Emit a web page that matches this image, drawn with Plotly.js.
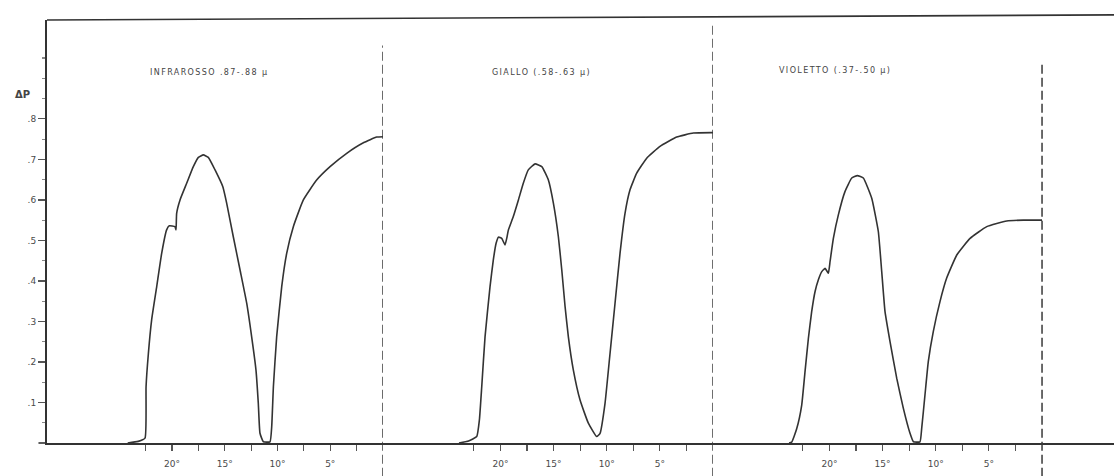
<!DOCTYPE html>
<html>
<head>
<meta charset="utf-8">
<script src="https://cdn.plot.ly/plotly-3.0.1.min.js"></script>
<style>html,body{margin:0;padding:0;background:#fff;}#chart{width:1114px;height:476px;}</style>
</head>
<body>
<div id="chart"></div>
<script>
// Angle (degrees) and ΔP values
var degInfrarosso = [24.2, 23.2, 22.56, 22.46, 22.24, 21.93, 21.45, 20.98, 20.51, 20.26, 19.72, 19.62, 19.56, 19.24, 18.61, 17.98, 17.5, 17.03, 16.56, 15.92, 15.19, 14.82, 14.19, 13.55, 12.92, 12.45, 12.04, 11.82, 11.66, 11.34, 10.71, 10.55, 10.39, 10.08, 9.6, 9.13, 8.5, 7.55, 6.29, 5.02, 3.44, 1.86, 0.6, 0];
var dpInfrarosso  = [0, 0.004, 0.012, 0.139, 0.221, 0.304, 0.386, 0.468, 0.526, 0.536, 0.534, 0.526, 0.567, 0.600, 0.641, 0.682, 0.705, 0.711, 0.705, 0.674, 0.633, 0.592, 0.509, 0.427, 0.345, 0.262, 0.180, 0.098, 0.024, 0.003, 0.003, 0.040, 0.139, 0.262, 0.386, 0.468, 0.534, 0.600, 0.649, 0.682, 0.715, 0.741, 0.755, 0.756];

var degGiallo = [23.9, 23.0, 22.23, 21.98, 21.76, 21.45, 20.98, 20.67, 20.41, 20.19, 19.88, 19.57, 19.41, 19.25, 18.79, 18.31, 17.85, 17.38, 16.74, 16.11, 15.49, 15.02, 14.55, 14.23, 13.92, 13.61, 13.14, 12.51, 11.73, 10.94, 10.63, 10.16, 9.69, 9.22, 8.75, 8.28, 7.81, 7.18, 6.24, 4.99, 3.42, 1.85, 0.12, 0];
var dpGiallo  = [0, 0.005, 0.016, 0.057, 0.139, 0.262, 0.386, 0.452, 0.493, 0.508, 0.505, 0.489, 0.505, 0.526, 0.559, 0.600, 0.641, 0.674, 0.689, 0.682, 0.649, 0.592, 0.509, 0.427, 0.337, 0.262, 0.180, 0.106, 0.049, 0.016, 0.024, 0.098, 0.221, 0.345, 0.468, 0.567, 0.625, 0.666, 0.703, 0.732, 0.755, 0.765, 0.766, 0.766];

var degVioletto = [23.8, 23.55, 23.08, 22.61, 22.3, 21.98, 21.67, 21.35, 21.04, 20.72, 20.41, 20.1, 19.94, 19.63, 19.16, 18.53, 17.9, 17.37, 16.81, 16.02, 15.4, 15.08, 14.77, 14.3, 13.67, 13.05, 12.42, 12.1, 11.48, 11.32, 11.01, 10.7, 10.23, 9.6, 8.97, 8.02, 6.77, 5.2, 3.32, 1.76, 0.19, 0];
var dpVioletto  = [0, 0.002, 0.035, 0.093, 0.175, 0.258, 0.324, 0.374, 0.403, 0.423, 0.431, 0.419, 0.448, 0.505, 0.563, 0.621, 0.654, 0.66, 0.654, 0.604, 0.522, 0.423, 0.324, 0.25, 0.16, 0.086, 0.024, 0.003, 0.003, 0.036, 0.119, 0.201, 0.275, 0.349, 0.407, 0.464, 0.505, 0.534, 0.548, 0.55, 0.55, 0.55];

var panelTitles = ["INFRAROSSO .87-.88 μ", "GIALLO (.58-.63 μ)", "VIOLETTO (.37-.50 μ)"];
var xTickVals = [22.5, 20, 17.5, 15, 12.5, 10, 7.5, 5, 2.5];
var xTickText = ["", "20°", "", "15°", "", "10°", "", "5°", ""];
var yTickVals = [0.1, 0.2, 0.3, 0.4, 0.5, 0.6, 0.7, 0.8];
var yTickText = [".1", ".2", ".3", ".4", ".5", ".6", ".7", ".8"];
var yMinorVals = [0.05, 0.15, 0.25, 0.35, 0.45, 0.55, 0.65, 0.75, 0.85, 0.9, 0.95];

var ink = "#333";
var textCol = "#4a4a4a";

function line(x, y, xa) {
  return {x: x, y: y, xaxis: xa, yaxis: "y", type: "scatter", mode: "lines",
          line: {color: ink, width: 1.6, shape: "spline", smoothing: 0.4}, hoverinfo: "skip", showlegend: false};
}
var data = [line(degInfrarosso, dpInfrarosso, "x"), line(degGiallo, dpGiallo, "x2"), line(degVioletto, dpVioletto, "x3")];

function xa(domain, range) {
  return {domain: domain, range: range, anchor: "y", showline: true, linecolor: ink, linewidth: 1.6,
          showgrid: false, zeroline: false, ticks: "outside", ticklen: 6, tickwidth: 1.2, tickcolor: "#555",
          ticklabelstandoff: 6,
          tickmode: "array", tickvals: xTickVals, ticktext: xTickText,
          tickfont: {family: "DejaVu Sans", size: 9, color: textCol}};
}

function title(txt, xref, x, y) {
  return {xref: xref, yref: "paper", x: x, y: y, xanchor: "left", yanchor: "middle",
          text: '<span style="letter-spacing:1.4px">' + txt + '</span>', showarrow: false,
          font: {family: "DejaVu Sans", size: 8, color: "#444"}};
}

var layout = {
  width: 1114, height: 476,
  margin: {l: 47, r: 0, t: 20, b: 33},
  paper_bgcolor: "#fff", plot_bgcolor: "#fff",
  showlegend: false,
  xaxis: xa([0, 0.3149], [31.85, 0]),
  xaxis2: xa([0.3149, 0.6242], [31.05, 0]),
  xaxis3: xa([0.6242, 1], [30.95, -6.77]),
  yaxis: {range: [0, 1.044], anchor: "x", showline: true, linecolor: ink, linewidth: 2,
          showgrid: false, zeroline: false, ticks: "outside", ticklen: 7, tickwidth: 1.2, tickcolor: "#555",
          tickmode: "array", tickvals: yTickVals, ticktext: yTickText,
          tickfont: {family: "DejaVu Sans", size: 9, color: textCol},
          minor: {tickmode: "array", tickvals: yMinorVals, ticks: "outside", ticklen: 3, tickcolor: "#888", showgrid: false}},
  shapes: [
    {type: "line", xref: "paper", yref: "paper", x0: 0, x1: 1, y0: 1.0, y1: 1.012, line: {color: ink, width: 1.6}},
    {type: "line", xref: "paper", yref: "paper", x0: -0.008, x1: 0, y0: 0, y1: 0, line: {color: ink, width: 1.6}},
    {type: "line", xref: "x", yref: "paper", x0: 0, x1: 0, y0: -0.08, y1: 0.94, line: {color: "#3a3a3a", width: 1.5, dash: "9px,4px"}},
    {type: "line", xref: "x2", yref: "paper", x0: 0, x1: 0, y0: -0.08, y1: 0.995, line: {color: "#3a3a3a", width: 1.5, dash: "9px,4px"}},
    {type: "line", xref: "x3", yref: "paper", x0: 0, x1: 0, y0: -0.08, y1: 0.894, line: {color: "#3a3a3a", width: 1.5, dash: "9px,4px"}}
  ],
  annotations: [
    title(panelTitles[0], "x", 22.3, 0.876),
    title(panelTitles[1], "x2", 21.0, 0.876),
    title(panelTitles[2], "x3", 24.9, 0.881),
    {xref: "paper", yref: "paper", x: -0.032, y: 0.842, text: "<b>ΔP</b>", showarrow: false, font: {family: "DejaVu Sans", size: 10, color: "#444"}}
  ]
};

Plotly.newPlot("chart", data, layout, {staticPlot: true, displayModeBar: false});
</script>
</body>
</html>
